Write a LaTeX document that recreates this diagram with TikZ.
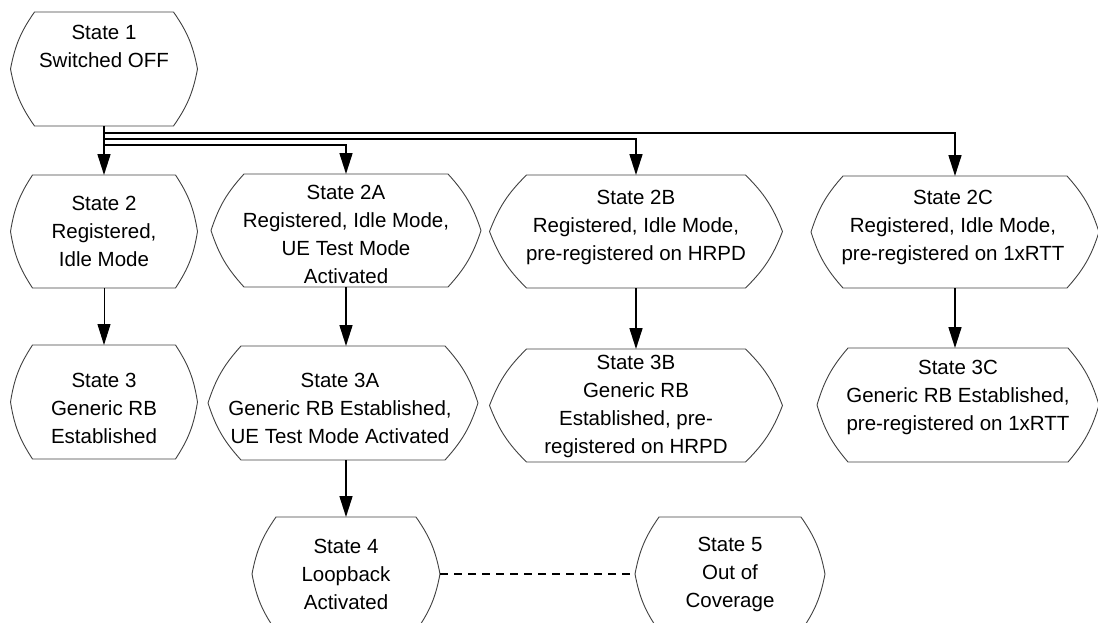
\documentclass[tikz,border=0pt]{standalone}
\usepackage{fontspec}
\setmainfont{Liberation Sans}
\usetikzlibrary{arrows.meta,calc}
\tikzset{
  statebox/.style={minimum width=#1, inner sep=0pt, outer sep=0pt},
  lbl/.style={align=center, font=\fontsize{20.5}{28}\selectfont, inner sep=0pt},
  arr/.style={line width=1.6pt, -{Triangle[length=21pt,width=13pt]}},
  thinarr/.style={line width=1pt, -{Triangle[length=21pt,width=13pt]}},
  outline/.style={draw=black!75, line width=0.9pt, line join=round},
  dashlink/.style={line width=1.4pt, dash pattern=on 8pt off 6pt},
}
\newcommand\hexoutline[2]{%
  \draw[outline] ($(#1.north east)+(-#2,0)$) -- ($(#1.north west)+(#2,0)$)
    to[bend right=12] (#1.west) to[bend right=12] ($(#1.south west)+(#2,0)$)
    -- ($(#1.south east)+(-#2,0)$) to[bend right=12] (#1.east)
    to[bend right=12] ($(#1.north east)+(-#2,0)$);
}
\begin{document}
\begin{tikzpicture}[x=1pt,y=1pt]
\useasboundingbox (0,0) rectangle (1098,-622);
\clip (0,0) rectangle (1098,-622);
% state shapes
\node[statebox=187pt, minimum height=114pt] (s1)  at (104,-69) {};
\node[statebox=187pt, minimum height=113pt] (s2)  at (104,-231.5) {};
\node[statebox=270pt, minimum height=113pt] (s2a) at (346,-230.5) {};
\node[statebox=293pt, minimum height=113pt] (s2b) at (636,-231.5) {};
\node[statebox=288pt, minimum height=112pt] (s2c) at (955,-232) {};
\node[statebox=187pt, minimum height=114pt] (s3)  at (104,-402) {};
\node[statebox=270pt, minimum height=114pt] (s3a) at (343,-403) {};
\node[statebox=293pt, minimum height=113pt] (s3b) at (636,-405.5) {};
\node[statebox=282pt, minimum height=114pt] (s3c) at (958,-405) {};
\node[statebox=188pt, minimum height=114pt] (s4)  at (346,-574) {};
\node[statebox=190pt, minimum height=114pt] (s5)  at (730,-574) {};
\hexoutline{s1}{24}
\hexoutline{s2}{22}
\hexoutline{s2a}{33}
\hexoutline{s2b}{37}
\hexoutline{s2c}{32}
\hexoutline{s3}{22}
\hexoutline{s3a}{33}
\hexoutline{s3b}{37}
\hexoutline{s3c}{31}
\hexoutline{s4}{24}
\hexoutline{s5}{24}
% labels
\node[lbl] (t1)  at (104,-46)   {State 1\\Switched OFF};
\node[lbl] (t2)  at (104,-231)  {State 2\\Registered,\\Idle Mode};
\node[lbl] (t2a) at (346,-234)  {State 2A\\Registered, Idle Mode,\\UE Test Mode\\Activated};
\node[lbl] (t2b) at (636,-227.5) {State 2B\\Registered, Idle Mode,\\pre-registered on HRPD};
\node[lbl] (t2c) at (953,-227)  {State 2C\\Registered, Idle Mode,\\pre-registered on 1xRTT};
\node[lbl] (t3)  at (104,-408)  {State 3\\Generic RB\\Established};
\node[lbl] (t3a) at (340,-408)  {State 3A\\Generic RB Established,\\UE Test Mode Activated};
\node[lbl] (t3b) at (636,-406)  {State 3B\\Generic RB\\Established, pre-\\registered on HRPD};
\node[lbl] (t3c) at (958,-397)  {State 3C\\Generic RB Established,\\pre-registered on 1xRTT};
\node[lbl] (t4)  at (346,-574)  {State 4\\Loopback\\Activated};
\node[lbl] (t5)  at (730,-574)  {State 5\\Out of\\Coverage};
% connectors
\draw[arr] (s1.south) -- (s2.north);
\draw[arr] ($(s1.south)+(0,-7)$) -| (s2c.north);
\draw[arr] ($(s1.south)+(0,-13)$) -| (s2b.north);
\draw[arr] ($(s1.south)+(0,-19)$) -| (s2a.north);
\draw[thinarr] (s2.south) -- (s3.north);
\draw[arr] (s2a.south) -- (s2a.south |- s3a.north);
\draw[arr] (s2b.south) -- (s3b.north);
\draw[arr] (s2c.south) -- (s2c.south |- s3c.north);
\draw[arr] (s4.north |- s3a.south) -- (s4.north);
\draw[dashlink] (s4.east) -- (s5.west);
\end{tikzpicture}
\end{document}
